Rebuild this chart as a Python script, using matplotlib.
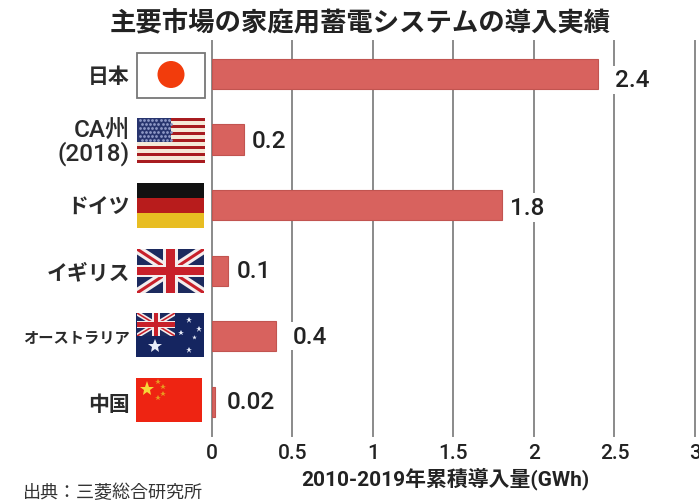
import matplotlib.pyplot as plt
from matplotlib.patches import Rectangle, Circle

plt.rcParams['font.family'] = ['Roboto', 'Noto Sans CJK JP', 'DejaVu Sans']

countries = ['日本', 'CA州\n(2018)', 'ドイツ', 'イギリス', 'オーストラリア', '中国']
values = [2.4, 0.2, 1.8, 0.1, 0.4, 0.02]
value_labels = ['2.4', '0.2', '1.8', '0.1', '0.4', '0.02']
xticks = [0, 0.5, 1, 1.5, 2, 2.5, 3]
xtick_labels = ['0', '0.5', '1', '1.5', '2', '2.5', '3']

W, H = 699, 502
fig = plt.figure(figsize=(W / 100, H / 100), dpi=100)
ax = fig.add_axes([212 / W, 1 - 437 / H, 487 / W, 395 / H])

pos = range(len(countries))
ax.barh(pos, values, height=0.46, color='#d8625e', edgecolor='#c25450', linewidth=0.8, zorder=3)
ax.set_xlim(0, 3.025)
ax.set_ylim(5.52, -0.5)
for s in ax.spines.values():
    s.set_visible(False)
for x in xticks:
    ax.axvline(x, color='#8a8a8a', lw=1.4, zorder=1, clip_on=False)

ax.set_xticks(xticks, xtick_labels, fontsize=15, color='#222222', fontweight='medium')
ax.set_yticks(list(pos), countries, fontsize=15, color='#2a2a2a', fontweight='bold', linespacing=0.95)
ax.get_yticklabels()[1].set_fontsize(17.5)
ax.get_yticklabels()[1].set_fontweight('medium')
ax.get_yticklabels()[4].set_fontsize(11)
ax.tick_params(axis='x', length=0, pad=5)
ax.tick_params(axis='y', length=0, pad=59)

offsets = [0.105, 0.05, 0.05, 0.055, 0.10, 0.07]
shifts = [0.09, 0.02, 0.04, 0.0, 0.0, 0.0]
for i, v in enumerate(values):
    ax.text(v + offsets[i], i + shifts[i], value_labels[i], va='center', ha='left', fontsize=17.5,
            color='#222222', fontweight='medium', zorder=4,
            bbox=dict(facecolor='white', edgecolor='none', pad=2))

fig.text(360 / W, 1 - 24 / H, '主要市場の家庭用蓄電システムの導入実績', ha='center', va='center',
         fontsize=19, fontweight='bold', color='#222222')
fig.text(445 / W, 1 - 479 / H, '2010-2019年累積導入量(GWh)', ha='center', va='center',
         fontsize=15, fontweight='bold', color='#222222')
fig.text(23 / W, 1 - 493 / H, '出典：三菱総合研究所', ha='left', va='center', fontsize=13, color='#333333')

# flags, drawn in pixel coordinates on an overlay
fl = fig.add_axes([0, 0, 1, 1], facecolor='none')
fl.set_xlim(0, W)
fl.set_ylim(H, 0)
fl.axis('off')


def rect(x, y, w, h, c):
    fl.add_patch(Rectangle((x, y), w, h, facecolor=c, edgecolor='none', zorder=3))


def union_jack(x, y, w, h):
    navy = '#1c2a5e'
    red = '#c8202a'
    white = '#f4eeee'
    rect(x, y, w, h, navy)
    clip = Rectangle((x, y), w, h, transform=fl.transData)
    for xs, ys in (([x, x + w], [y, y + h]), ([x + w, x], [y, y + h])):
        a, = fl.plot(xs, ys, color=white, lw=h * 0.15, solid_capstyle='butt', zorder=4)
        b, = fl.plot(xs, ys, color=red, lw=h * 0.05, solid_capstyle='butt', zorder=4)
        a.set_clip_path(clip)
        b.set_clip_path(clip)
    rect(x + w * 0.39, y, w * 0.22, h, white)
    rect(x, y + h * 0.36, w, h * 0.28, white)
    rect(x + w * 0.44, y, w * 0.12, h, red)
    rect(x, y + h * 0.41, w, h * 0.18, red)
    for p in fl.patches[-4:]:
        p.set_zorder(5)


# Japan
fl.add_patch(Rectangle((137, 54), 68, 45, facecolor='white', edgecolor='#777777', lw=1.3))
fl.add_patch(Circle((171, 75.5), 13.5, facecolor='#f23c0c', edgecolor='none'))

# USA
for k in range(13):
    rect(137, 119 + k * 45 / 13, 68, 45 / 13, '#a81c20' if k % 2 == 0 else '#f5ead8')
rect(137, 119, 34, 24, '#28356f')
for r in range(6):
    for c in range(8):
        fl.plot(139.5 + c * 4.2 + (r % 2) * 2, 121 + r * 4, '.', color='#8c96c4', ms=2, zorder=4)

# Germany
rect(137, 184, 67, 15, '#111111')
rect(137, 199, 67, 15, '#b81c1c')
rect(137, 214, 67, 15, '#e8bd22')

# UK
union_jack(137, 250, 67, 44)

# Australia
rect(136, 314, 68, 44, '#152560')
union_jack(137, 314, 38, 23)
for px, py, sz in [(189, 321, 5), (199, 330, 5), (181, 334, 4), (194, 338, 3.5), (189, 351, 5), (155, 347, 10)]:
    fl.plot(px, py, '*', color='#e8ecf8', ms=sz, mew=0, zorder=6)

# China
rect(136, 379, 66, 44, '#ee2412')
fl.plot(147, 390, '*', color='#f6d838', ms=11, mew=0, zorder=6)
for px, py in [(158, 383), (163, 388), (163, 395), (158, 399)]:
    fl.plot(px, py, '*', color='#e89a20', ms=4, mew=0, zorder=6)

fig.savefig('out.png', dpi=100)
